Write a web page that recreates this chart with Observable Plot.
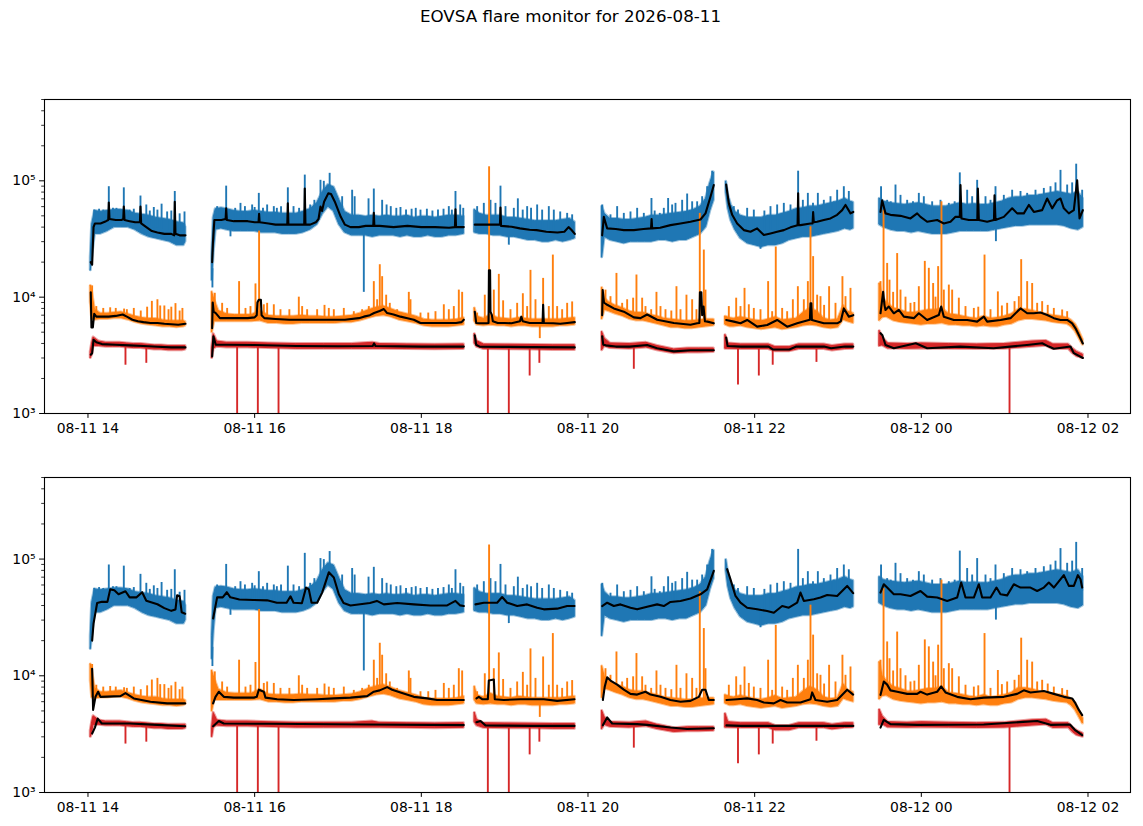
<!DOCTYPE html>
<html><head><meta charset="utf-8">
<script src="https://cdn.jsdelivr.net/npm/d3@7"></script>
<script src="https://cdn.jsdelivr.net/npm/@observablehq/plot@0.6"></script>
<style>
body{margin:0;background:#fff;font-family:"DejaVu Sans",sans-serif;}
#wrap{position:relative;width:1143px;height:826px;background:#fff;}
#title{position:absolute;top:5px;left:0;width:1141px;text-align:center;font-size:16.7px;line-height:22px;z-index:2;color:#000;}
#wrap svg{display:block;}
</style></head><body>
<div id="wrap"><div id="title">EOVSA flare monitor for 2026-08-11</div><div id="p1"></div><div id="p2"></div></div>
<script>
// time: minutes since 2026-08-11 14:00; values in thousands
const xTicks = [0, 120, 240, 360, 480, 600, 720];
const xLabels = ["08-11 14", "08-11 16", "08-11 18", "08-11 20", "08-11 22", "08-12 00", "08-12 02"];
const yMajor = [1, 10, 100];
const yLabels = ["10³", "10⁴", "10⁵"];
const yMinor = [2,3,4,5,6,7,8,9,20,30,40,50,60,70,80,90,200,300,400,500];

// [t, lo, hi] per segment
const blueBand = [
 [[2,17,22],[3,22,42],[5,35,55],[9,35,54],[14,37,55],[19,40,56],[24,40,56],[29,40,55],[34,38,52],[39,35,51],[44,33,50],[49,32,48],[54,31,47],[59,30,46],[64,28,44],[69,28,43],[70.2,30,40]],
 [[89.4,14,22],[90.5,24,48],[92,38,57],[96,39,58],[100,38,57],[105,37,55],[110,37,54],[115,37,54],[120,37,55],[125,36,54],[130,36,53],[135,36,53],[140,35,52],[145,35,52],[150,35,52],[155,36,54],[160,38,57],[165,42,64],[169,52,80],[173,60,92],[177,55,88],[181,42,68],[185,36,54],[190,34,50],[195,34,50],[200,34,49],[205,33,50],[210,34,49],[215,34,50],[220,34,49],[225,33,49],[230,34,50],[235,33,48],[240,33,49],[245,34,49],[250,33,48],[255,33,49],[260,34,50],[265,34,50],[270.6,35,49]],
 [[278.5,36,56],[282,35,52],[287,35,50],[292,34,50],[297,34,50],[302,33,48],[307,33,48],[312,32,47],[317,31,46],[322,31,45],[327,30,45],[332,30,45],[337,31,45],[342,30,46],[347,31,47],[350.5,32,44]],
 [[370.2,22,60],[372,33,52],[376,31,47],[381,30,47],[386,29,46],[391,30,46],[396,30,47],[401,30,48],[406,30,50],[411,31,50],[416,31,51],[421,30,52],[426,31,53],[431,31,54],[436,33,56],[441,35,60],[445,40,70],[448,55,95],[450.6,68,118]],
 [[459.5,80,98],[461,58,75],[463,46,62],[466,38,54],[470,32,50],[475,29,48],[480,28,48],[485,27,48],[490,28,50],[495,28,50],[500,29,52],[505,31,54],[510,32,57],[515,33,58],[520,33,60],[525,34,60],[530,35,62],[535,36,64],[540,37,66],[545,39,70],[549,38,66],[551,39,65]],
 [[570,42,70],[573,40,66],[578,38,64],[583,37,63],[588,37,62],[593,36,63],[598,37,64],[603,36,62],[608,35,60],[613,35,60],[618,35,60],[623,36,62],[628,37,64],[633,37,62],[638,37,63],[643,37,62],[648,37,62],[653,38,64],[658,39,66],[663,40,70],[668,41,72],[673,41,72],[678,42,74],[683,42,74],[688,42,76],[693,42,78],[698,42,80],[703,41,78],[708,39,76],[713,38,80],[716.3,40,70]]
];
const blueSpikes = [[4.5,56],[8,57],[11,56],[15,89],[18,58],[20.5,58],[25.8,87],[30,56],[33,57],[37.8,74],[42,62],[44.5,55],[47.4,59],[50,56],[53,63],[57,54],[60,55],[62.5,81],[66,52],[69.5,54],
 [89.6,12],[93,60],[96,58],[99.5,90],[102.6,33],[106,58],[109.8,64],[113,60],[118.2,62],[120,59],[123,78],[126,58],[129,62],[133.8,60],[136,58],[139,60],[143.9,87],[148,60],[152,58],[156.1,112],[160,62],[163,68],[167.4,101],[169.8,99],[174,116],[179,72],[183,73],[190.2,83],[192,73],[198.6,11],[202,70],[205.8,85],[211.8,68],[215,62],[218,60],[222,58],[225,59],[229,56],[233,57],[236,58],[239.4,56],[244,57],[248,55],[252,56],[256,57],[259.8,60],[262,56],[264.6,81],[268,62],[270.2,58],
 [280.2,60],[285,64],[289.8,68],[293.4,64],[297,90],[300.6,60],[303,28],[306.6,58],[309.5,70],[313,56],[316.2,60],[319,58],[323.4,62],[327,56],[331.8,60],[335.4,56],[340,54],[345,52.5],[348.6,51],
 [370.3,62],[376.2,51],[381,60],[385.8,52.5],[390.6,54],[395.4,58],[400.2,52.5],[405.7,70.5],[408,55],[411.7,52.5],[414.6,58],[417.7,70.5],[420.6,62],[423,64],[427.8,68],[431.4,77],[435,66],[438.6,66],[442.2,73],[445.8,89],[449.4,121],
 [465,60],[468,56],[474.6,58],[479.4,56],[484.2,25.8],[487,55],[491.4,60],[496.2,62],[501,64],[505.8,62],[511.3,121],[514.7,68],[518.3,78],[522,64],[525.5,78],[529.8,68],[534.6,73],[537,66],[539.4,83],[544.2,89],[547.8,81],
 [571,89],[575.4,68],[578,66],[581.4,92],[585,75],[589.8,68],[594,66],[598.2,78],[601.8,73],[607.8,66],[613.8,68],[619.8,64],[624,66],[627.7,117],[633,83],[636.6,73],[640.2,101],[646.2,73],[649.8,68],[653.4,89],[653.7,30],[659.4,75],[665.4,83],[668,72],[671.4,81],[676.2,78],[682.2,83],[685,76],[688.2,86],[693,89],[696.6,96],[700.2,123],[705,92],[708.6,96],[711.5,139],[715.8,83]];

const orangeBand = [
 [[2,9,12.5],[3,6.5,11],[5,6.4,7.8],[9,6.5,7.2],[14,6.5,7.2],[19,6.6,7.3],[24,6.6,7.4],[29,6.4,7.1],[34,6.1,6.8],[39,5.9,6.6],[44,5.8,6.5],[49,5.7,6.5],[54,5.6,6.3],[59,5.6,6.2],[64,5.5,6.2],[69,5.6,6.2],[70.2,5.7,6.1]],
 [[89.4,5.0,11],[91,6.2,9.5],[94,6.2,7.6],[100,6.2,7.1],[106,6.2,7.0],[112,6.2,7.0],[118,6.2,7.0],[124,6.3,7.6],[130,6.0,6.9],[136,6.0,6.8],[142,5.9,6.8],[148,5.9,6.8],[154,6.0,6.9],[160,6.0,6.8],[166,6.0,6.8],[172,6.0,6.7],[178,6.0,6.7],[184,6.1,6.8],[190,6.1,6.9],[196,6.3,7.2],[202,6.6,7.7],[208,6.9,8.1],[213,7.0,8.3],[218,6.8,7.9],[224,6.4,7.4],[230,6.2,7.1],[236,6.0,6.8],[242,5.7,6.4],[248,5.6,6.3],[254,5.6,6.3],[260,5.6,6.3],[266,5.7,6.4],[270.6,5.8,6.6]],
 [[278.5,6.2,8.0],[280,5.8,6.8],[285,5.7,6.5],[290,5.8,7.0],[295,5.7,6.6],[300,5.7,6.5],[305,5.6,6.4],[310,5.7,6.6],[315,5.7,6.5],[320,5.6,6.4],[325,5.6,6.4],[330,5.6,6.4],[335,5.6,6.4],[340,5.7,6.4],[345,5.7,6.5],[350.5,5.8,6.6]],
 [[370.2,6.5,12],[372,7.8,9.8],[375,7.6,9.0],[380,7.2,8.4],[385,6.9,8.0],[390,6.5,7.5],[395,6.3,7.3],[400,6.3,7.3],[405,6.1,7.0],[410,5.9,6.8],[415,5.7,6.5],[420,5.5,6.4],[425,5.5,6.3],[430,5.4,6.2],[435,5.4,6.2],[440,5.5,6.3],[445,5.6,6.4],[450.6,5.7,6.4]],
 [[459,5.8,6.8],[462,5.6,6.6],[465,5.6,6.5],[470,5.7,6.7],[475,5.5,6.5],[480,5.4,6.3],[485,5.3,6.2],[490,5.4,6.4],[495,5.5,6.7],[500,5.3,6.3],[505,5.4,6.4],[510,5.5,6.5],[515,5.7,7.3],[520,5.8,8.0],[525,5.7,7.5],[530,5.5,6.5],[535,5.4,6.3],[540,5.5,6.4],[544,6.4,8.4],[547,6.2,7.5],[551,6.0,7.2]],
 [[570,6.3,13],[572,6.7,10],[575,6.8,9.0],[580,6.3,8.0],[585,6.1,7.7],[590,6.0,7.3],[595,5.9,7.3],[600,5.8,7.5],[605,5.9,7.7],[610,5.9,7.7],[615,6.0,8.0],[620,5.8,7.1],[625,5.8,7.0],[630,5.7,6.8],[635,5.7,6.6],[640,5.6,6.5],[645,5.7,6.8],[650,5.6,6.5],[655,5.6,6.6],[660,5.8,6.8],[665,5.9,7.1],[670,6.3,7.8],[675,6.5,7.8],[680,6.5,7.6],[685,6.4,7.3],[690,6.3,7.1],[695,6.1,6.9],[700,6.0,6.8],[705,5.9,6.6],[708,5.6,6.3],[711,5.1,5.8],[713.5,4.5,5.1],[716.3,3.9,4.3]]
];
const orangeSpikes = [[3,12.5],[6,8.3],[11,8],[16,8.1],[20,8],[26,7.9],[28,7.8],[33,8.0],[38,7.6],[42.6,8.2],[46,9.2],[50,9.5],[52,8.4],[55,8.4],[58,7.8],[60,8.2],[63,8.8],[66,7.6],[68,8.0],
 [91.3,10.8],[96.6,8.85],[100.2,8],[108.8,13.6],[113.4,8],[117,8.3],[120.6,13],[123.2,37],[126.6,8.6],[129,8.85],[133.8,8.6],[138.6,7.8],[145,7.8],[151.8,10],[154.2,8.3],[157.8,7.8],[165,7.8],[170.3,8.5],[173.4,8],[177,7.8],[184.2,8],[191.4,7.5],[197.4,7.8],[202.2,8.3],[205.8,13.6],[208.2,9.5],[210.1,19],[211.8,15],[214.7,10.4],[217.3,8.85],[222.6,7.8],[231,11],[232.2,9.5],[239.4,7.3],[245,7.3],[250.2,7.5],[256.2,8.6],[259.8,7.8],[263.4,8.3],[267,11.5],[269.4,11],
 [280.2,7.3],[285.7,10.4],[288.8,132],[292.2,11.5],[295.8,15.7],[298.9,9.3],[304.2,7.8],[309,8.85],[313.1,10.7],[316.2,8.3],[318.6,17],[322.2,9.5],[325.3,4.4],[327.7,14.5],[331.8,8.3],[334.7,23],[337.8,8.3],[341.4,7.8],[345,8.85],[348.6,9.1],
 [372.6,11.5],[376.2,10.1],[380.5,16],[384.6,8.85],[388.2,9.5],[392.5,9.8],[394.9,15.5],[399,9.8],[401.4,8.3],[405.5,7.8],[409.3,11],[412.2,8.3],[415.8,7.8],[420,7.6],[423.7,12.3],[426.6,7.8],[430.9,10.4],[435,9.5],[438.1,7.8],[440.5,52.5],[443.4,25.4],[444.6,11.5],
 [461.4,8.3],[466.7,9.8],[469.8,8.3],[472.7,11.9],[475.8,8.6],[479.4,8],[484.2,7.8],[489.7,13.6],[492.6,7.5],[495.2,27],[499.8,8],[503.4,7.5],[507.5,9.5],[511.1,12.3],[515.4,9.5],[518.3,13.6],[520.2,40.3],[522.1,22.3],[525,10.4],[527.4,10.1],[530,8.5],[533.6,12.3],[538.2,8.85],[543.2,15],[545.4,10.1],[549,11.9],
 [570.6,13.6],[572.8,56],[575.4,19.5],[577.1,14],[579.7,11],[582.6,23.7],[585,11.5],[588.6,10],[592.2,8.85],[595,9],[598.2,12.3],[602.5,20.3],[605.4,17.7],[608.5,13.1],[610.2,10],[612.1,18.3],[614.5,66],[616.2,11.5],[619.8,12.7],[622.2,11.5],[627,9.8],[631.8,8.3],[637.8,8],[641,8.2],[645.5,23],[649.8,7.8],[655.1,11.1],[658,8.4],[661.8,8.85],[667.1,9.15],[670.2,10.1],[671.9,21],[676.2,13.6],[679.8,13.1],[683.4,8.85],[687,9.15],[691,8.5],[695.4,8],[701.4,7.76],[705,7.5]];

const redBand = [
 [[2,3.0,3.4],[3,3.2,4.0],[4,3.8,4.5],[8,3.8,4.15],[13,3.75,4.05],[18,3.75,4.05],[23,3.75,4.05],[28,3.7,4.0],[33,3.65,3.95],[38,3.65,3.95],[43,3.6,3.9],[48,3.55,3.85],[53,3.55,3.85],[58,3.5,3.8],[63,3.5,3.8],[68,3.5,3.8],[70.2,3.55,3.8]],
 [[89.4,3.0,3.6],[90.5,3.6,4.8],[93,3.75,4.15],[100,3.7,4.05],[115,3.7,4.05],[130,3.65,4.0],[150,3.6,3.95],[170,3.6,3.95],[190,3.6,3.95],[205,3.6,4.05],[210,3.6,3.95],[230,3.58,3.92],[250,3.56,3.9],[270.6,3.58,3.92]],
 [[278.5,4.0,4.8],[280,3.75,4.2],[285,3.58,3.92],[300,3.56,3.9],[320,3.55,3.88],[335,3.52,3.86],[350.5,3.52,3.86]],
 [[370.2,3.5,5.0],[372,3.8,4.4],[376,3.65,4.0],[390,3.6,3.95],[402,3.7,4.05],[410,3.5,3.8],[422,3.3,3.55],[432,3.35,3.62],[440,3.35,3.62],[450.6,3.38,3.62]],
 [[459,3.6,4.7],[461,3.6,4.0],[470,3.58,3.92],[490,3.58,3.92],[495,3.42,3.72],[505,3.42,3.72],[512,3.58,3.92],[530,3.58,3.92],[536,3.48,3.8],[545,3.58,3.92],[551,3.6,3.92]],
 [[570,3.8,5.1],[572,3.85,4.5],[576,3.62,4.0],[590,3.6,3.95],[600,3.62,4.0],[620,3.6,3.95],[640,3.58,3.92],[660,3.6,3.95],[680,3.75,4.15],[690,3.82,4.2],[695,3.58,3.92],[706,3.6,3.92],[709,3.3,3.6],[712,3.1,3.38],[716.3,3.0,3.2]]
];
const redSpikes = [[27,2.6],[42,2.7],[107.4,0.5],[122.3,0.5],[137.2,0.5],[287.9,0.5],[303,0.5],[318,2.1],[325,2.7],[393,2.4],[468,1.76],[483,2.1],[493,2.6],[524.5,2.75],[663.5,0.5]];

// black overlays, top panel
const blueBlackTop = [
 [[2,20],[3,19],[4,40],[5,43],[9,43],[13,45],[14.6,46],[15,65],[15.5,47],[20,46],[24,46],[25.4,47],[25.8,60],[26.3,46],[30,45],[34,44],[37.4,44],[37.8,60],[38.3,43],[42,40],[46,37],[50,36],[55,35],[60,35],[62.1,34],[62.5,66],[63,35],[66,34],[70.2,34]],
 [[89.4,20],[90,30],[91,46],[93,46],[96,46],[99.1,47],[99.5,58],[100,46],[105,45],[110,45],[115,45],[120,44],[122.8,44],[123.2,52],[123.6,44],[130,43],[135,42],[140,42],[143.5,42],[143.9,64],[144.3,42],[150,42],[155.7,42],[156.1,86],[156.6,42],[160,42],[164,44],[166,47],[167.4,60],[168.5,55],[170,66],[173,78],[175,77],[178,65],[182,49],[185,42],[189,40],[195,40],[200,41],[205.4,41],[205.8,53],[206.2,41],[210,41],[220,40],[230,41],[240,40],[250,40],[260,39.5],[264.2,40],[264.6,57],[265,40],[270.6,40]],
 [[278.5,42],[285,42],[290,42],[296.6,42],[297,59],[297.4,41],[305,40.3],[311,39],[318,38],[323,37.7],[330,36.5],[338,36],[343,36.5],[346,40],[348,38],[350.5,35]],
 [[370.2,34],[371.4,49],[373.8,39],[380,38.5],[385.8,37.7],[393,37.7],[400,38.5],[405.4,39],[405.8,47],[406.2,39],[412,39.5],[419.4,41.6],[426.6,43],[433.8,44.5],[441,46.5],[444.6,52.5],[448.2,73],[450.6,92]],
 [[459.5,93],[461.4,64],[463.8,51],[467.4,43],[472.2,37.7],[477,36.5],[481.8,39],[486.6,34.2],[491.4,35.3],[496.2,36.5],[501,37.7],[505.8,39.8],[510.9,41.6],[511.3,78],[511.7,41.6],[513,41.6],[520.2,43],[521.7,43],[522.1,54],[522.6,44],[525,44.5],[529.8,46],[534.6,47.5],[539.4,51],[543,56],[545.4,62],[549,52.5],[551,54]],
 [[570.6,54],[571.8,68],[574.2,52.5],[577.8,51],[585,50],[592.2,47.5],[597,52.5],[599.4,49],[604.2,44.5],[611.4,46],[616.2,43],[621,44.5],[624.6,49],[627.7,49],[628.2,92],[628.9,47.5],[634.2,46],[640.3,46],[640.7,86],[641.4,46],[647.4,44.5],[652.3,46],[652.7,75],[653.4,46],[659.4,49],[665.4,58],[669,52.5],[673.8,52.5],[677.4,62],[681,54],[687,56],[690.6,70.5],[694.2,58],[697.8,68],[700.2,70.5],[702.6,58],[706.2,52.5],[709.8,56],[712.2,101],[713.9,47.5],[716.3,56]]
];
const orangeBlackTop = [
 [[2,11],[2.5,5.5],[3.5,5.5],[4.5,7.2],[6,6.8],[10,6.8],[15,6.8],[20,6.9],[25,7.1],[28,6.8],[32,6.4],[36,6.2],[40,6.1],[45,6.0],[50,6.0],[55,5.9],[60,5.85],[65,5.8],[70.2,5.9]],
 [[89.4,5.4],[89.8,9],[90.5,7.5],[92,7.3],[95,6.6],[100,6.6],[105,6.6],[110,6.6],[115,6.6],[120,6.7],[121.5,7.0],[122,9.0],[123,9.5],[124.5,9.5],[125,7.0],[127,6.6],[135,6.5],[145,6.4],[155,6.4],[165,6.4],[175,6.4],[185,6.4],[195,6.6],[198.6,6.8],[203,7.0],[206,7.3],[210,7.6],[213,7.9],[215.4,7.3],[220,7.1],[225,6.8],[230,6.6],[234.6,6.4],[239.4,6.0],[250,6.0],[258.6,6.0],[265,6.0],[269,6.1],[270.6,6.4]],
 [[278.5,7.5],[279.5,6.0],[282,5.96],[287,5.96],[288.4,6.0],[288.7,17],[289.5,17],[289.8,7.5],[290.8,7.0],[291.5,6.2],[295,6.0],[300,6.0],[305,5.96],[311,6.2],[312,6.8],[313,6.2],[318,6.0],[323,6.0],[327.3,6.0],[327.7,8.6],[328.2,6.0],[335,5.96],[340,5.9],[345,6.0],[350.5,6.1]],
 [[370.2,7.0],[370.6,11.5],[371.5,9.0],[373.8,8.6],[378.6,8.0],[385.8,7.5],[393,6.7],[397.8,6.6],[402.6,7.1],[409.8,6.4],[421.8,6.0],[433.8,5.8],[438.6,5.96],[440.2,6.0],[440.6,11],[441.6,11],[442.2,7.0],[443.2,8.3],[444.2,6.2],[446,6.16],[450.6,5.96]],
 [[459.5,6.37],[465,6.16],[469.8,5.96],[474.6,6.37],[481.8,5.58],[489,5.77],[496.2,6.37],[503.4,5.58],[510.6,5.96],[519,6.37],[519.8,6.4],[520.2,8.85],[520.8,8.85],[521.2,6.37],[529.8,5.96],[539.4,5.96],[542,6.2],[544.2,8.0],[547.8,6.8],[551,7.0]],
 [[570.6,7.27],[572.5,11.1],[573.5,8.5],[574.2,7.76],[576.6,8.3],[580.2,7.27],[583.8,7.76],[587.4,6.8],[594.6,6.6],[598.2,7.27],[604.2,6.37],[612.6,7.03],[614.3,8.3],[616.2,6.8],[623.4,6.37],[633,6.37],[640.2,6.16],[645,6.8],[647.4,6.16],[657,6.37],[664.2,6.6],[671.4,8.0],[676.2,7.27],[681,7.27],[685.8,7.37],[690.6,7.03],[695.4,6.6],[700.2,6.37],[705,6.37],[708.6,5.96],[711,5.4],[713.4,4.73],[716.3,4.0]]
];
const redBlackTop = [
 [[2,3.2],[3,3.3],[4,4.3],[6,4.1],[10,3.95],[20,3.9],[30,3.85],[40,3.8],[50,3.75],[60,3.7],[70.2,3.7]],
 [[89.4,3.1],[90.3,4.6],[92,3.9],[100,3.9],[120,3.88],[150,3.8],[180,3.78],[205,3.8],[206,4.0],[207,3.8],[240,3.76],[270.6,3.76]],
 [[278.5,4.7],[279.5,3.9],[282,3.76],[300,3.74],[320,3.72],[350.5,3.7]],
 [[370.2,4.6],[371,3.9],[373,3.85],[380,3.76],[390,3.76],[402.6,3.88],[409.8,3.64],[421.8,3.42],[433.8,3.5],[450.6,3.5]],
 [[459.5,4.5],[460.5,3.8],[470,3.76],[480,3.76],[490,3.76],[493,3.55],[505,3.55],[510,3.76],[530,3.76],[535,3.64],[545,3.76],[551,3.76]],
 [[570.6,4.9],[572,4.7],[574.2,3.88],[580.2,3.64],[596,4.02],[604.2,3.64],[628,3.76],[652,3.64],[664,3.76],[676,3.88],[687,4.02],[691.8,3.76],[695.4,3.6],[707.4,3.76],[709.8,3.3],[716.3,3.0]]
];

// black overlays, bottom panel
const blueBlackBottom = [
 [[3,20],[4,28],[6.6,42],[10,43],[14,43],[16,55],[19,54],[22,50],[27,53],[30,47],[35,47],[39,52],[42,44],[50,41],[55,38],[60,36],[63,37],[64.2,49],[66,48],[67.5,35],[70,34]],
 [[90.1,31],[93,47],[97,47],[100,52],[102.5,47],[109,45],[119,44.6],[129,44.3],[136,42.3],[143,42.3],[145.8,48],[148,42.3],[154,41.8],[157,57],[159,55],[161,42.3],[165,42.3],[168.6,51.6],[173.4,77],[177,69.5],[180.6,50],[184,42],[189,40],[196,41],[203,42],[208,43.8],[213,40.9],[222.6,42],[234.6,40.9],[246.6,40],[258.6,40.1],[264.6,43.8],[268,40.1],[270.6,39.6]],
 [[279,40.9],[285,42.3],[294.6,42.3],[298.2,47.3],[301.8,42.3],[309,39.6],[316.2,40.9],[323.4,38.3],[328.2,37.1],[337.8,37.6],[345,39.6],[350.3,39.6]],
 [[370.2,39.6],[373.8,42.3],[378.6,39.6],[383.4,40.9],[390.6,38.3],[395.4,37.1],[402.6,39.1],[409.8,40.9],[414.6,39.6],[419.4,42.9],[426.6,43.8],[433.8,45.9],[441,49.9],[445.8,55.1],[450.6,79.4]],
 [[460.2,82],[462.6,67],[466.2,48.3],[469.8,42.3],[474.6,38.3],[481.8,37.1],[489,35.9],[493.8,34.7],[499.8,39.6],[504.6,38.3],[510.6,42.3],[513,51.6],[515.4,43.8],[522.6,45.2],[527.4,46.8],[532.2,49.3],[539.4,48.3],[546.6,58.9],[550.9,51]],
 [[570.6,51.6],[573,60.9],[575.4,57],[580.2,49.9],[585,49.9],[592.2,48.3],[599.4,53.3],[604.2,47.7],[611.4,46.8],[618.6,43.8],[625.8,46.8],[628.7,62.9],[631.8,46.8],[637.8,46.8],[641.4,60.9],[643.8,46.8],[649.8,46.8],[654.1,57],[657,49.9],[661.8,48.9],[666.6,60.9],[671.4,57],[678.6,57],[683.4,53.3],[688.2,57],[691.8,62.9],[695.4,57],[702.6,72.8],[706.2,58.9],[709.8,58.9],[712.7,72.8],[714.6,67.2],[715.8,57]]
];
const orangeBlackBottom = [
 [[3,11.5],[3.7,5.1],[5.4,6.6],[7.3,7.3],[9,6.6],[23.4,6.7],[27,7.1],[33,6.4],[45,6.0],[57,5.8],[70,5.8]],
 [[90.1,5.8],[91.8,6.6],[94.2,7.3],[97.8,6.6],[105,6.5],[119.4,6.5],[121.5,6.6],[123,7.6],[126.6,7.3],[127.8,6.5],[136.2,6.3],[148.2,6.2],[165,6.3],[177,6.4],[189,6.5],[201,6.7],[205.8,7.3],[210,7.5],[215.4,8.0],[219,7.6],[225,7.2],[234.6,6.6],[244.2,6.4],[251.4,6.2],[270.6,6.2]],
 [[279.7,6.4],[281.4,6.6],[283.8,6.3],[287.9,6.3],[288.6,9.1],[292.2,9.3],[292.9,6.3],[299.4,6.2],[311.4,6.3],[328.2,6.3],[337.8,6.1],[350.3,6.3]],
 [[370.7,6.2],[372.1,8.1],[373.8,9.7],[376.2,9.1],[381,8.4],[385.8,7.6],[390.6,7.0],[395.4,6.9],[401.4,7.3],[405,6.9],[412.2,6.6],[419.4,6.2],[426.6,6.0],[433.8,6.1],[439.8,6.6],[442.2,7.6],[444.6,7.6],[447,6.2],[450.6,6.2]],
 [[459.7,6.2],[467.4,6.3],[474.6,6.4],[481.8,6.2],[486.6,5.9],[493.8,5.8],[498.6,6.2],[503.4,5.9],[513,5.9],[520.2,6.3],[521.4,7.2],[523.8,6.2],[532.2,6.0],[539.4,6.2],[546.6,7.6],[550.9,6.9]],
 [[570.6,6.86],[573,8.93],[575.4,8.4],[577.8,7.5],[582.6,7.3],[589.8,7.0],[597,7.0],[599.4,7.3],[604.2,6.9],[611.4,7.3],[614.3,8.1],[617.4,7.2],[625.8,6.6],[635.4,6.3],[645,6.5],[659.4,6.6],[669,7.0],[673.8,7.5],[678.6,7.2],[683.4,7.3],[688.2,7.4],[695.4,7.0],[702.6,6.6],[708.6,6.4],[711,5.8],[713.4,5.1],[715.8,4.6]]
];
const redBlackBottom = [
 [[3,3.2],[5,3.6],[7,4.3],[10,3.9],[30,3.9],[50,3.8],[70,3.7]],
 [[90.1,3.7],[94.2,4.1],[97.8,3.9],[130,3.88],[200,3.82],[270.6,3.78]],
 [[279.7,4.0],[282.6,4.1],[286.2,3.76],[320,3.72],[350.3,3.72]],
 [[370.7,3.76],[373.8,4.4],[377.4,3.9],[395.4,3.85],[402.6,3.8],[419.4,3.6],[431.4,3.5],[450.6,3.55]],
 [[459.7,3.76],[470,3.72],[551,3.72]],
 [[570.6,3.6],[573,4.2],[577.8,3.85],[597,3.8],[645,3.82],[683.4,4.1],[693,3.8],[707,3.82],[711,3.4],[715.8,3.1]]
];

const series = [
  {band: blueBand, spikes: blueSpikes, color: "#1f77b4"},
  {band: orangeBand, spikes: orangeSpikes, color: "#ff7f0e"},
  {band: redBand, spikes: redSpikes, color: "#d62728"}
];

function bandRows(band) { return band.flatMap((seg, i) => seg.map(([t, lo, hi]) => ({t, lo, hi, seg: i}))); }
function lineRows(line) { return line.flatMap((seg, i) => seg.map(([t, v]) => ({t, v, seg: i}))); }
function spikeRows(spikes, band) {
  const rows = bandRows(band);
  return spikes.map(([t, v]) => {
    let best = rows[0];
    for (const r of rows) if (Math.abs(r.t - t) < Math.abs(best.t - t)) best = r;
    return {t, v, base: Math.sqrt(best.lo * best.hi)};
  });
}
const xLabelOf = new Map(xTicks.map((d, i) => [d, xLabels[i]]));
const yLabelOf = new Map(yMajor.map((d, i) => [d, yLabels[i]]));

function panel(blacks, height, mt, mb) {
  const marks = [];
  for (const s of series) {
    const rows = bandRows(s.band);
    marks.push(Plot.areaY(rows, {x: "t", y1: "lo", y2: "hi", z: "seg", fill: "none", stroke: s.color, strokeOpacity: 0.45, strokeWidth: 3}));
    marks.push(Plot.areaY(rows, {x: "t", y1: "lo", y2: "hi", z: "seg", fill: s.color, stroke: s.color, strokeWidth: 1}));
    marks.push(Plot.ruleX(spikeRows(s.spikes, s.band), {x: "t", y1: "base", y2: "v", stroke: s.color, strokeWidth: 1.9, clip: true}));
  }
  for (const b of blacks) marks.push(Plot.line(lineRows(b), {x: "t", y: "v", z: "seg", stroke: "black", strokeWidth: 2.1}));
  marks.push(
    Plot.axisX({ticks: xTicks, tickFormat: d => xLabelOf.get(d), tickSize: 4.9, tickPadding: 4.5, fontSize: 13.9, label: null}),
    Plot.axisY({ticks: yMajor, tickFormat: d => yLabelOf.get(d), tickSize: 4.9, tickPadding: 4, fontSize: 13.9, label: null}),
    Plot.axisY({ticks: yMinor, tickFormat: () => "", tickSize: 2.8, strokeWidth: 0.8, label: null}),
    Plot.frame({stroke: "black", strokeWidth: 1.1})
  );
  return Plot.plot({
    width: 1143, height,
    marginLeft: 44, marginRight: 13, marginTop: mt, marginBottom: mb,
    x: {type: "linear", domain: [-31.3, 750.6]},
    y: {type: "log", domain: [1, 500]},
    style: {fontFamily: "DejaVu Sans", fontSize: "13.9px", color: "black", background: "transparent", overflow: "visible"},
    marks
  });
}

document.getElementById("p1").append(panel([blueBlackTop, orangeBlackTop, redBlackTop], 440, 99, 27));
document.getElementById("p2").append(panel([blueBlackBottom, orangeBlackBottom, redBlackBottom], 386, 37, 34));
</script>
</body></html>
